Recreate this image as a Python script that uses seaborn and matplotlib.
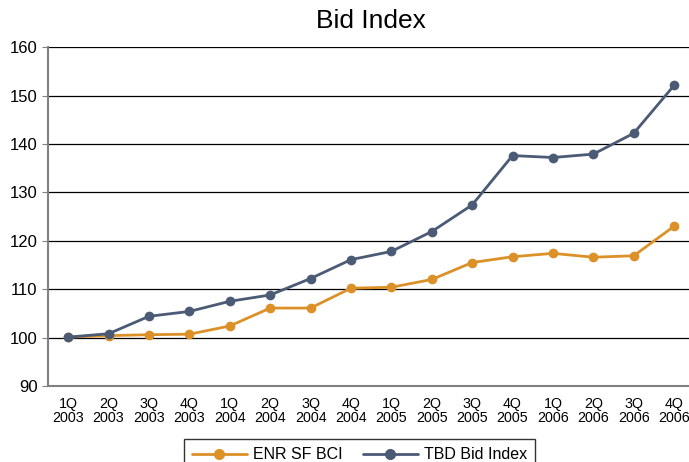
import pandas as pd
import seaborn as sns
import numpy as np
from matplotlib import pyplot as plt

sns.set_style("white")
plt.rcParams['font.family'] = ['Liberation Sans', 'DejaVu Sans']
plt.rcParams['text.color'] = 'black'
plt.rcParams['xtick.color'] = 'black'
plt.rcParams['ytick.color'] = 'black'

quarters = ["1Q\n2003", "2Q\n2003", "3Q\n2003", "4Q\n2003",
            "1Q\n2004", "2Q\n2004", "3Q\n2004", "4Q\n2004",
            "1Q\n2005", "2Q\n2005", "3Q\n2005", "4Q\n2005",
            "1Q\n2006", "2Q\n2006", "3Q\n2006", "4Q\n2006"]
enr_sf_bci = [100.1, 100.4, 100.6, 100.7, 102.4, 106.1, 106.1, 110.2,
              110.4, 112.0, 115.5, 116.7, 117.4, 116.6, 116.9, 123.0]
tbd_bid_index = [100.1, 100.8, 104.4, 105.4, 107.5, 108.8, 112.2, 116.1,
                 117.8, 121.9, 127.4, 137.6, 137.2, 137.9, 142.2, 152.1]

series_names = ["ENR SF BCI", "TBD Bid Index"]
colors = ["#DB9128", "#4B5A75"]

df = pd.DataFrame({
    "pos": list(range(len(quarters))) * 2,
    "value": enr_sf_bci + tbd_bid_index,
    "series": [series_names[0]] * len(quarters) + [series_names[1]] * len(quarters),
})

fig = plt.figure(figsize=(6.89, 4.62), dpi=100)
ax = fig.add_axes([0.0697, 0.1645, 0.938, 0.7335])

sns.lineplot(
    data=df, x="pos", y="value", hue="series",
    palette=colors, marker="o", markersize=7, markeredgewidth=0,
    linewidth=2, ax=ax, legend=False, zorder=3
)

ax.set_ylim(90, 160)
ax.set_xlim(-0.5, 15.5)
ax.set_yticks(np.arange(90, 161, 10))
ax.set_xticks(range(len(quarters)))
ax.set_xticklabels(quarters, fontsize=10.3, linespacing=1.0)
ax.tick_params(axis="y", labelsize=12, length=4, color="#808080", direction="out", left=True)
ax.tick_params(axis="x", length=0, pad=8)
ax.set_xlabel("")
ax.set_ylabel("")
ax.yaxis.grid(True, color="black", linewidth=0.9)
ax.set_axisbelow(True)
for side in ["top", "right"]:
    ax.spines[side].set_visible(False)
for side in ["left", "bottom"]:
    ax.spines[side].set_color("#808080")
    ax.spines[side].set_linewidth(1.5)

ax.set_title("Bid Index", fontsize=19, pad=14, color="black")

handles = [plt.Line2D([], [], color=c, marker="o", markersize=7, linewidth=2)
           for c in colors]
leg = fig.legend(handles, series_names, loc="upper center",
                 bbox_to_anchor=(0.522, 0.066), ncol=2, fontsize=11.5,
                 frameon=True, fancybox=False, handlelength=3.4,
                 handletextpad=0.4, columnspacing=1.3, borderpad=0.5)
leg.get_frame().set_edgecolor("black")
leg.get_frame().set_linewidth(1.0)

plt.savefig("out.png", dpi=100)
